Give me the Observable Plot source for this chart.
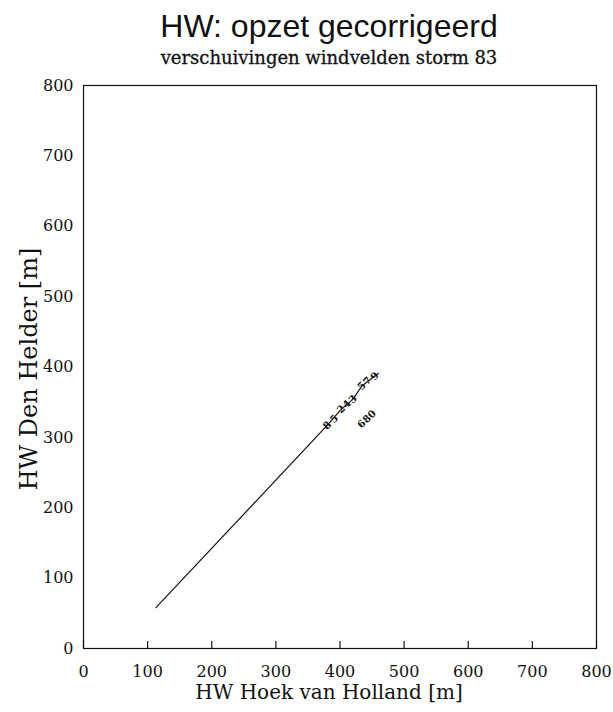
<!DOCTYPE html>
<html><head><meta charset="utf-8">
<script src="https://cdn.jsdelivr.net/npm/d3@7"></script>
<script src="https://cdn.jsdelivr.net/npm/@observablehq/plot@0.6"></script>
<style>
body{margin:0;background:#fff}
#wrap{position:relative;width:613px;height:712px;overflow:hidden}
#title{position:absolute;left:0;width:658px;top:8px;text-align:center;font-family:"Liberation Sans",Arial,sans-serif;font-size:32px;line-height:36px;color:#111}
#sub{position:absolute;left:0;width:658px;top:48px;text-align:center;font-family:"DejaVu Serif",serif;font-size:18px;line-height:20px;color:#111;-webkit-text-stroke:0.3px #111}
#chart{position:absolute;left:0;top:0}
</style></head>
<body><div id="wrap"><div id="chart"></div><div id="title">HW: opzet gecorrigeerd</div><div id="sub">verschuivingen windvelden storm 83</div></div>
<script>
const xTicks = [0, 100, 200, 300, 400, 500, 600, 700, 800];
const yTicks = [0, 100, 200, 300, 400, 500, 600, 700, 800];
const lineX = [113, 380, 402, 420, 434, 460];
const lineY = [58, 317, 340, 354, 373, 391];
const labX = [380, 391, 402, 411, 420, 434, 443, 454, 434, 442, 450];
const labY = [317, 326, 340, 347, 354, 373, 380, 387, 319, 326, 333];
const labText = ["8", "5", "2", "4", "3", "5", "7", "9", "6", "8", "0"];

const lineData = lineX.map((x, i) => ({x, y: lineY[i]}));
const labData = labX.map((x, i) => ({x, y: labY[i], t: labText[i]}));

const chart = Plot.plot({
  width: 613, height: 712,
  marginTop: 85, marginBottom: 64, marginLeft: 83, marginRight: 17,
  style: {fontFamily: "DejaVu Serif, serif", color: "#111", background: "white"},
  x: {domain: [0, 800]},
  y: {domain: [0, 800]},
  marks: [
    Plot.frame({stroke: "#111", strokeWidth: 1.2}),
    Plot.axisX({ticks: xTicks, tickSize: 0, tickPadding: 17, fontSize: 16, label: null, tickFormat: d => String(d)}),
    Plot.axisY({ticks: yTicks, tickSize: 0, tickPadding: 10, fontSize: 16, label: null, tickFormat: d => String(d)}),
    Plot.ruleX(xTicks, {x: d => d, y1: 0, y2: 10, stroke: "#111", strokeWidth: 1.2}),
    Plot.line(lineData, {x: "x", y: "y", stroke: "#111", strokeWidth: 1.2}),
    Plot.text(labData, {x: "x", y: "y", text: "t", rotate: -45, fontSize: 10, fontWeight: "bold", fill: "#111"}),
    Plot.text(["HW Hoek van Holland [m]"], {frameAnchor: "bottom", text: d => d, textAnchor: "middle", dy: 50, dx: -11, fontSize: 20, fill: "#111"}),
    Plot.text(["HW Den Helder [m]"], {frameAnchor: "left", text: d => d, textAnchor: "middle", rotate: -90, dx: -54, dy: 2, fontSize: 24, fill: "#111"})
  ]
});
document.getElementById("chart").appendChild(chart);
</script>
</body></html>
